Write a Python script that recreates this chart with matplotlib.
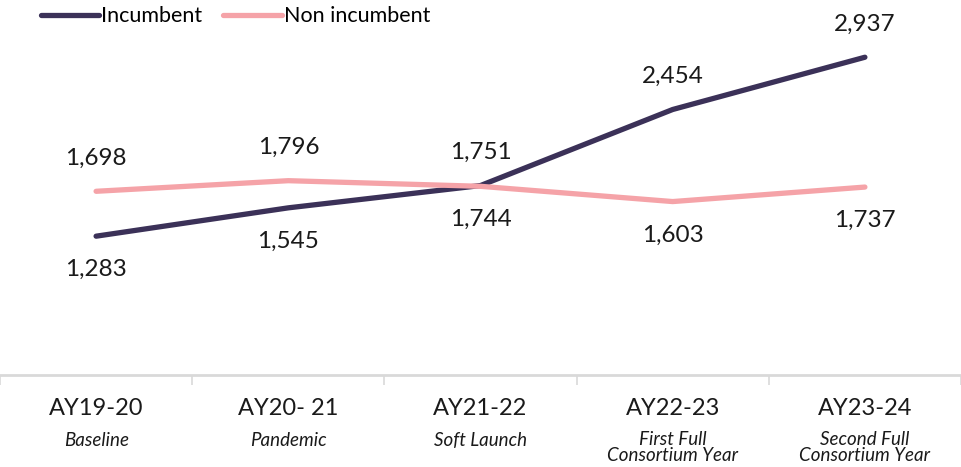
import matplotlib.pyplot as plt

plt.rcParams['font.family'] = ['Lato', 'DejaVu Sans']

years = ['AY19-20', 'AY20- 21', 'AY21-22', 'AY22-23', 'AY23-24']
phases = ['Baseline', 'Pandemic', 'Soft Launch', 'First Full\nConsortium Year', 'Second Full\nConsortium Year']
incumbent = [1283, 1545, 1751, 2454, 2937]
non_incumbent = [1698, 1796, 1744, 1603, 1737]
# label above (+1) or below (-1) the point
inc_pos = [-1, -1, 1, 1, 1]
non_pos = [1, 1, -1, -1, -1]

c_inc = '#3b3158'
c_non = '#f5a3a8'

fig = plt.figure(figsize=(9.61, 4.67), dpi=100)
ax = fig.add_axes([0, 92 / 467, 1, 375 / 467])
x = range(len(years))

ax.plot(x, incumbent, color=c_inc, lw=3.8, label='Incumbent', solid_capstyle='round')
ax.plot(x, non_incumbent, color=c_non, lw=3.8, label='Non incumbent', solid_capstyle='round')

for i in x:
    ax.annotate(f'{incumbent[i]:,}', (i, incumbent[i]), xytext=(0, 24 * inc_pos[i]),
                textcoords='offset points', ha='center', va='center', fontsize=17.5, color='#1a1a1a')
    ax.annotate(f'{non_incumbent[i]:,}', (i, non_incumbent[i]), xytext=(0, 24 * non_pos[i]),
                textcoords='offset points', ha='center', va='center', fontsize=17.5, color='#1a1a1a')

ax.set_xlim(-0.5, 4.5)
ax.set_ylim(0, 3466)
ax.set_yticks([])
ax.set_xticks([])
ax.set_xticks([-0.5, 0.5, 1.5, 2.5, 3.5, 4.5], minor=True)
ax.tick_params(axis='x', which='minor', length=7, width=1.2, color='#d9d9d9', labelbottom=False)
for s in ['top', 'right', 'left']:
    ax.spines[s].set_visible(False)
ax.spines['bottom'].set_color('#d9d9d9')
ax.spines['bottom'].set_linewidth(2)

for i in x:
    ax.annotate(years[i], (i, 0), xytext=(0, -24), textcoords='offset points',
                ha='center', va='center', fontsize=17, color='#1a1a1a')
    two = '\n' in phases[i]
    ax.annotate(phases[i], (i, 0), xytext=(0, -52 if two else -47), textcoords='offset points',
                ha='center', va='center', fontsize=13.5, style='italic', color='#1a1a1a',
                linespacing=0.95)

ax.legend(loc='upper left', bbox_to_anchor=(0.022, 1.035), ncol=2, frameon=False,
          fontsize=15.5, handlelength=2.7, handletextpad=0.1, columnspacing=1.0)

fig.savefig('out.png', dpi=100)
